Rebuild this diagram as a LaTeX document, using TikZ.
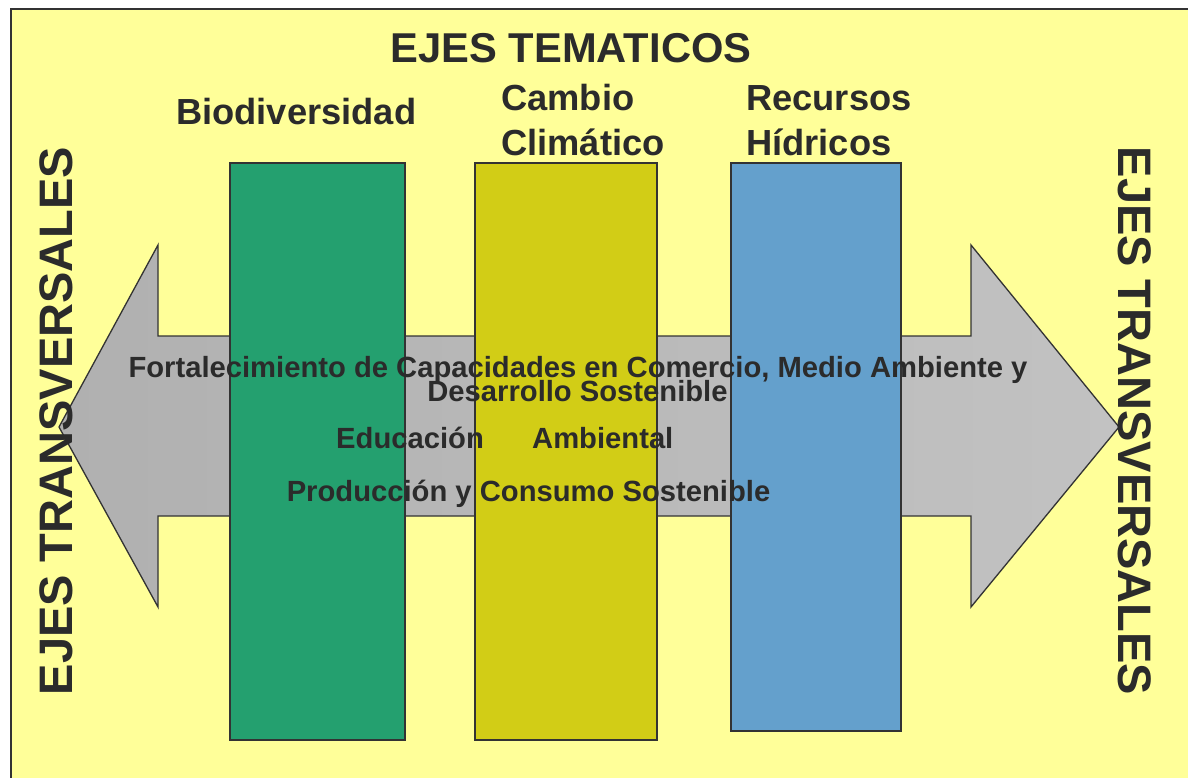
\documentclass[tikz,border=0pt]{standalone}
\usepackage{fontspec}
\setmainfont{Liberation Sans}
\definecolor{bgyellow}{HTML}{FFFF99}
\definecolor{linecol}{HTML}{333333}
\definecolor{txtcol}{HTML}{2B2B2B}
\definecolor{biogreen}{HTML}{24A06F}
\definecolor{climyellow}{HTML}{D2CD16}
\definecolor{hidroblue}{HTML}{64A0CC}
\definecolor{arrowleft}{HTML}{B0B0B0}
\definecolor{arrowright}{HTML}{C2C2C2}
\tikzset{
  pillar/.style={draw=linecol, line width=1.5pt, anchor=north west, inner sep=0pt, outer sep=0pt},
  heading/.style={text=txtcol, inner sep=0pt, font=\fontsize{36.3}{45}\selectfont\bfseries},
  bigtitle/.style={text=txtcol, inner sep=0pt, font=\fontsize{41.7}{50}\selectfont\bfseries},
  sidetitle/.style={text=txtcol, inner sep=0pt, font=\fontsize{47}{56}\selectfont\bfseries},
  axistext/.style={text=txtcol, inner sep=0pt, font=\fontsize{29.2}{34}\selectfont\bfseries},
}
\begin{document}
\begin{tikzpicture}[x=1pt,y=-1pt]
\useasboundingbox (0,0) rectangle (1188,778);
\clip (0,0) rectangle (1188,778);
\fill[white] (0,0) rectangle (1188,778);
\draw[fill=bgyellow, draw=linecol, line width=2pt] (11,9) rectangle (1210,800);
% double arrow
\coordinate (ltip) at (59,427);
\coordinate (rtip) at (1119,427);
\shade[left color=arrowleft, right color=arrowright] (ltip) -- (158,245) -- (158,336) -- (971,336) -- (971,245) -- (rtip) -- (971,607) -- (971,516) -- (158,516) -- (158,607) -- cycle;
\draw[linecol, line width=1.3pt, line join=miter] (ltip) -- (158,245) -- (158,336) -- (971,336) -- (971,245) -- (rtip) -- (971,607) -- (971,516) -- (158,516) -- (158,607) -- cycle;
% pillars
\node[pillar, fill=biogreen, minimum width=175pt, minimum height=577pt] (bio) at (230,163) {};
\node[pillar, fill=climyellow, minimum width=182pt, minimum height=577pt] (clim) at (475,163) {};
\node[pillar, fill=hidroblue, minimum width=170pt, minimum height=568pt] (hidro) at (731,163) {};
% titles
\node[bigtitle, anchor=base] (title) at (571,63) {EJES TEMATICOS};
\node[heading, anchor=base west] (biot) at (176,125) {Biodiversidad};
\node[heading, anchor=base west] (cc1) at (501,111) {Cambio};
\node[heading, anchor=base west] (cc2) at (501,156) {Climático};
\node[heading, anchor=base west] (rh1) at (746,111) {Recursos};
\node[heading, anchor=base west] (rh2) at (746,156) {Hídricos};
% side titles
\node[sidetitle, rotate=90, anchor=base] (lside) at (72,421) {EJES TRANSVERSALES};
\node[sidetitle, rotate=-90, anchor=base] (rside) at (1118,421) {EJES TRANSVERSALES};
% axis texts
\node[axistext, anchor=base] (fort1) at (578,377) {Fortalecimiento de Capacidades en Comercio, Medio Ambiente y};
\node[axistext, anchor=base] (fort2) at (577.5,401) {Desarrollo Sostenible};
\node[axistext, anchor=base west] (edu) at (336,448) {Educación};
\node[axistext, anchor=base west] (amb) at (532,448) {Ambiental};
\node[axistext, anchor=base] (prod) at (528.5,501) {Producción y Consumo Sostenible};
\end{tikzpicture}
\end{document}
